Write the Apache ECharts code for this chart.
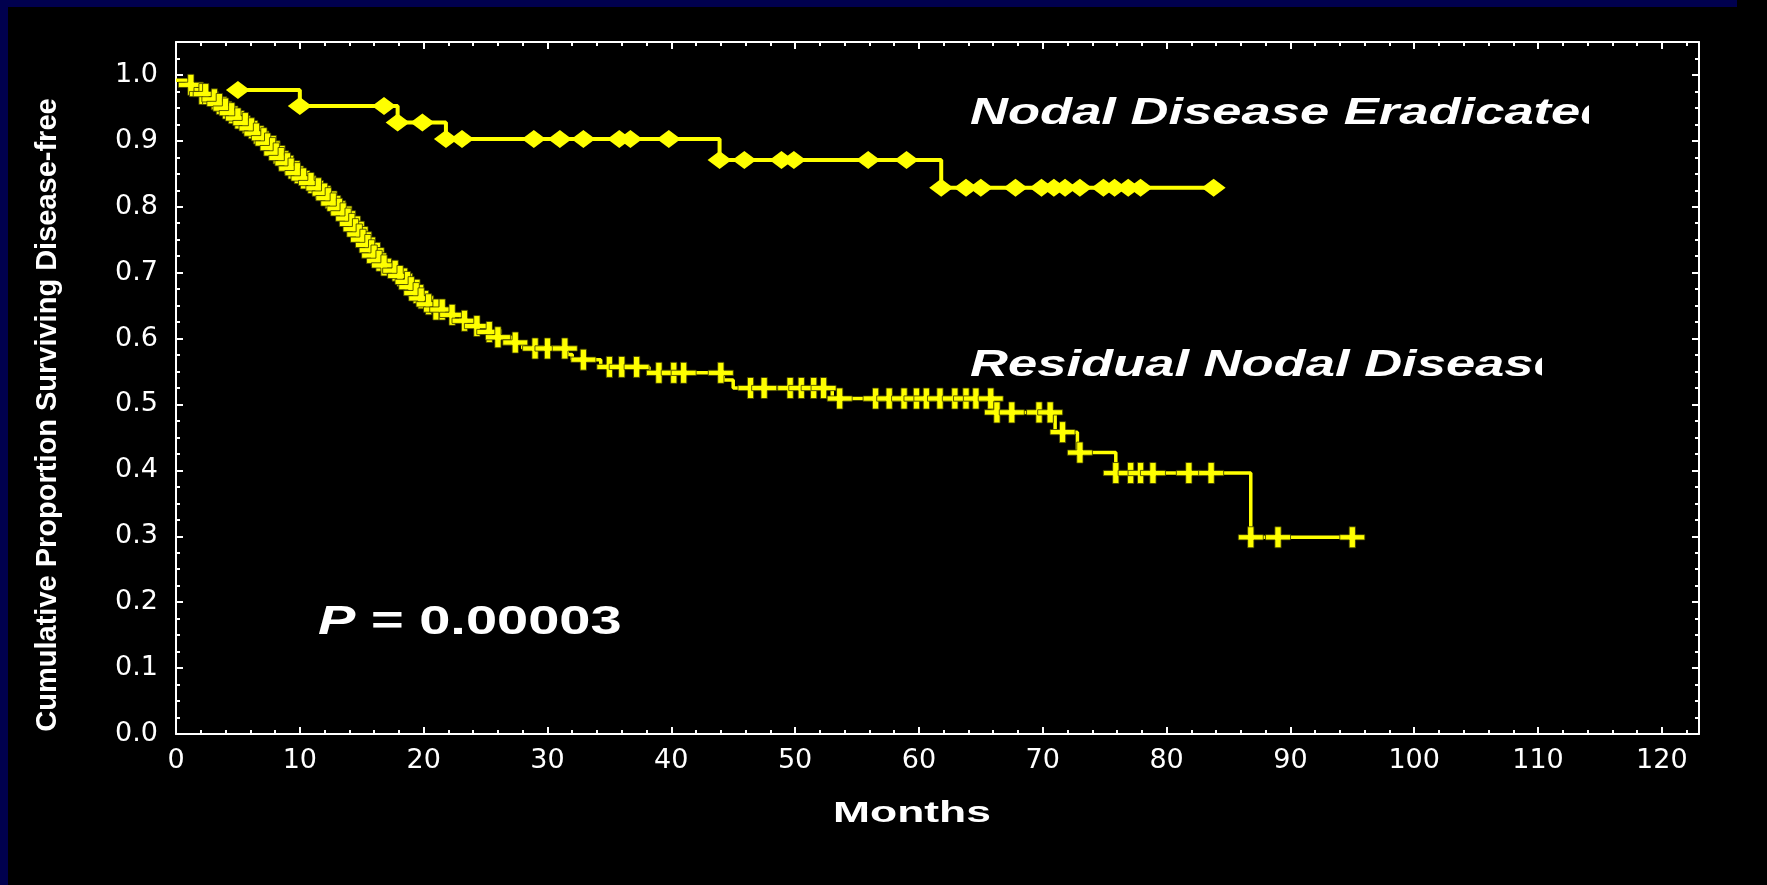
<!DOCTYPE html>
<html>
<head>
<meta charset="utf-8">
<script src="https://cdn.jsdelivr.net/npm/echarts@6/dist/echarts.min.js"></script>
<style>
html,body{margin:0;padding:0;background:#000;width:1767px;height:885px;overflow:hidden}
#topband{position:absolute;left:0;top:0;width:1737px;height:7px;background:#00004e}
#leftband{position:absolute;left:0;top:0;width:8px;height:885px;background:#00004e}
#chart{position:absolute;left:0;top:0;width:1767px;height:885px}
</style>
</head>
<body>
<div id="topband"></div>
<div id="leftband"></div>
<div id="chart"></div>
<script>
// ---------- axes ----------
const X_MIN = 0, X_MAX = 123, X_STEP = 10;
const Y_MIN = 0, Y_MAX = 1.05, Y_STEP = 0.1;
const xAxisTitle = 'Months';
const yAxisTitle = 'Cumulative Proportion Surviving Disease-free';
const labelNodal = 'Nodal Disease Eradicated';
const labelResidual = 'Residual Nodal Disease';
const pLabel = 'P';
const pValue = '= 0.00003';

// ---------- Residual Nodal Disease (Kaplan-Meier steps) ----------
const resStepT = [0, 0.9, 1.5, 2.1, 2.7, 3.2, 3.8, 4.3, 4.9, 5.4,
  6.0, 6.3, 6.8, 7.2, 7.6, 8.0, 8.3, 8.7, 9.1, 9.6,
  10.1, 10.8, 11.3, 11.8, 12.1, 12.5, 13.0, 13.3, 13.7, 14.0,
  14.3, 14.6, 15.0, 15.3, 15.6, 15.9, 16.2, 16.6, 17.5, 18.0,
  18.5, 18.9, 19.2, 19.6, 20.2, 20.8, 22.0, 23.0, 24.0, 25.1,
  25.5, 27.1, 28.0, 31.6, 32.0, 34.3, 38.2, 44.2, 45.0, 53.0,
  66.0, 71.0, 72.8, 75.9, 86.8, 95.0];
const resStepS = [0.992, 0.985, 0.978, 0.971, 0.963, 0.956, 0.949, 0.942, 0.934, 0.927,
  0.919, 0.911, 0.904, 0.896, 0.889, 0.881, 0.874, 0.866, 0.858, 0.851,
  0.843, 0.836, 0.828, 0.820, 0.813, 0.805, 0.797, 0.790, 0.782, 0.774,
  0.766, 0.758, 0.750, 0.742, 0.734, 0.726, 0.718, 0.711, 0.703, 0.695,
  0.686, 0.678, 0.669, 0.661, 0.652, 0.644, 0.636, 0.627, 0.619, 0.610,
  0.602, 0.594, 0.585, 0.576, 0.568, 0.557, 0.548, 0.537, 0.525, 0.509,
  0.488, 0.458, 0.427, 0.396, 0.2985, 0.2985];
// censored observations (+)
const resCensT = [1.2, 2.1, 2.4, 3.1, 3.5, 4.0, 4.5, 5.0, 5.6, 6.1,
  6.5, 7.1, 7.4, 7.8, 8.1, 8.5, 9.0, 9.3, 9.8, 10.3,
  10.9, 11.5, 12.0, 12.3, 12.7, 13.2, 13.5, 13.9, 14.2, 14.5,
  14.8, 15.1, 15.5, 15.8, 16.0, 16.4, 16.8, 17.7, 18.1, 18.7,
  19.0, 19.4, 19.8, 20.4, 21.0, 21.5, 22.3, 23.3, 24.3, 25.3,
  26.0, 27.4, 29.0, 30.0, 31.4, 32.9, 35.0, 36.0, 37.2, 39.0,
  40.2, 41.0, 44.0, 46.4, 47.5, 49.6, 50.5, 51.5, 52.3, 53.6,
  56.5, 57.6, 58.8, 59.8, 60.6, 61.7, 62.9, 63.8, 64.6, 65.8,
  66.3, 67.5, 69.7, 70.6, 71.6, 73.0, 75.9, 77.1, 77.9, 78.9,
  81.8, 83.6, 86.8, 89.0, 95.0];
const resCensS = [0.985, 0.971, 0.971, 0.963, 0.956, 0.949, 0.942, 0.934, 0.927, 0.919,
  0.911, 0.904, 0.896, 0.889, 0.881, 0.874, 0.866, 0.858, 0.851, 0.843,
  0.836, 0.828, 0.820, 0.813, 0.805, 0.797, 0.790, 0.782, 0.774, 0.766,
  0.758, 0.750, 0.742, 0.734, 0.726, 0.718, 0.711, 0.703, 0.695, 0.686,
  0.678, 0.669, 0.661, 0.652, 0.644, 0.644, 0.636, 0.627, 0.619, 0.610,
  0.602, 0.594, 0.585, 0.585, 0.585, 0.568, 0.557, 0.557, 0.557, 0.548,
  0.548, 0.548, 0.548, 0.525, 0.525, 0.525, 0.525, 0.525, 0.525, 0.509,
  0.509, 0.509, 0.509, 0.509, 0.509, 0.509, 0.509, 0.509, 0.509, 0.509,
  0.488, 0.488, 0.488, 0.488, 0.458, 0.427, 0.396, 0.396, 0.396, 0.396,
  0.396, 0.396, 0.2985, 0.2985, 0.2985];

// ---------- Nodal Disease Eradicated ----------
const nodStepT = [5.0, 10.0, 17.9, 21.8, 43.9, 61.8, 83.8];
const nodStepS = [0.977, 0.953, 0.928, 0.903, 0.871, 0.829, 0.829];
const nodCensT = [5.0, 10.0, 16.8, 17.9, 19.9,
  21.8, 23.1, 28.9, 31.0, 32.9, 35.8, 36.7, 39.8,
  43.9, 45.9, 48.9, 49.9, 55.9, 59.0,
  61.8, 63.8, 65.0, 67.8, 69.9, 70.9, 71.8, 73.0, 74.9, 75.8, 76.9, 77.9, 83.8];
const nodCensS = [0.977, 0.953, 0.953, 0.928, 0.928,
  0.903, 0.903, 0.903, 0.903, 0.903, 0.903, 0.903, 0.903,
  0.871, 0.871, 0.871, 0.871, 0.871, 0.871,
  0.829, 0.829, 0.829, 0.829, 0.829, 0.829, 0.829, 0.829, 0.829, 0.829, 0.829, 0.829, 0.829];

// ---------- build ----------
const pair = (a, b) => a.map((v, i) => [v, b[i]]);
const YELLOW = '#ffff00';
const WHITE = '#ffffff';
const PLUS = 'path://M9,0H15V7.5H24V12.5H15V20H9V12.5H0V7.5H9Z';

function xAx(pos, showLabel) {
  return {
    type: 'value', position: pos, min: X_MIN, max: X_MAX, interval: X_STEP,
    axisLine: { show: true, onZero: false, lineStyle: { color: WHITE, width: 2 } },
    axisTick: { show: true, inside: true, length: 7, lineStyle: { color: WHITE, width: 2 } },
    minorTick: { show: true, splitNumber: 5, length: 4, lineStyle: { color: WHITE, width: 2 } },
    splitLine: { show: false }, minorSplitLine: { show: false },
    axisLabel: {
      show: showLabel, color: WHITE, fontFamily: 'DejaVu Sans', fontSize: 27, margin: 13,
      showMaxLabel: false,
      formatter: v => (Math.abs(v / X_STEP - Math.round(v / X_STEP)) < 1e-6 ? String(Math.round(v)) : '')
    }
  };
}
function yAx(pos, showLabel) {
  return {
    type: 'value', position: pos, min: Y_MIN, max: Y_MAX, interval: Y_STEP,
    axisLine: { show: true, onZero: false, lineStyle: { color: WHITE, width: 2 } },
    axisTick: { show: true, inside: true, length: 7, lineStyle: { color: WHITE, width: 2 } },
    minorTick: { show: true, splitNumber: 4, length: 4, lineStyle: { color: WHITE, width: 2 } },
    splitLine: { show: false }, minorSplitLine: { show: false },
    axisLabel: {
      show: showLabel, color: WHITE, fontFamily: 'DejaVu Sans', fontSize: 27, margin: 18,
      showMaxLabel: false,
      formatter: v => (Math.abs(v / Y_STEP - Math.round(v / Y_STEP)) < 1e-6 ? v.toFixed(1) : '')
    }
  };
}

const chart = echarts.init(document.getElementById('chart'), null, { renderer: 'canvas' });
chart.setOption({
  backgroundColor: 'transparent',
  animation: false,
  grid: { left: 176, right: 68, top: 42, bottom: 151, containLabel: false },
  xAxis: [xAx('bottom', true), xAx('top', false)],
  yAxis: [yAx('left', true), yAx('right', false)],
  series: [
    {
      name: labelResidual, type: 'line', step: 'end', xAxisIndex: 0, yAxisIndex: 0,
      data: pair(resStepT, resStepS), symbol: 'none', z: 2,
      lineStyle: { color: YELLOW, width: 3.5 }
    },
    {
      name: labelResidual + ' censored', type: 'scatter', xAxisIndex: 0, yAxisIndex: 0,
      data: pair(resCensT, resCensS), symbol: PLUS, symbolSize: [25, 21], z: 3,
      itemStyle: { color: YELLOW, borderColor: '#3a3a00', borderWidth: 0.8, opacity: 1 }
    },
    {
      name: labelNodal, type: 'line', step: 'end', xAxisIndex: 0, yAxisIndex: 0,
      data: pair(nodStepT, nodStepS), symbol: 'none', z: 4,
      lineStyle: { color: YELLOW, width: 4 }
    },
    {
      name: labelNodal + ' censored', type: 'scatter', xAxisIndex: 0, yAxisIndex: 0,
      data: pair(nodCensT, nodCensS), symbol: 'diamond', symbolSize: [24, 18], z: 5,
      itemStyle: { color: YELLOW, opacity: 1 }
    }
  ],
  graphic: [
    {
      type: 'text', x: 48, y: 415, rotation: Math.PI / 2, z: 90,
      style: { text: yAxisTitle, x: 0, y: 0, fill: WHITE, fontFamily: 'Liberation Sans', fontSize: 29,
        fontWeight: 'bold', textAlign: 'center', verticalAlign: 'middle', textVerticalAlign: 'middle' }
    },
    {
      type: 'text', x: 912, y: 814, scaleX: 1.48, z: 90,
      style: { text: xAxisTitle, x: 0, y: 0, fill: WHITE, fontFamily: 'Liberation Sans', fontSize: 30,
        fontWeight: 'bold', textAlign: 'center', verticalAlign: 'middle', textVerticalAlign: 'middle' }
    },
    {
      type: 'text', x: 970, y: 114, scaleX: 1.42, z: 90,
      style: { text: labelNodal, x: 0, y: 0, fill: WHITE, fontFamily: 'Liberation Sans', fontSize: 37,
        fontWeight: 'bold', fontStyle: 'italic', textAlign: 'left', verticalAlign: 'middle', textVerticalAlign: 'middle' }
    },
    {
      type: 'text', x: 970, y: 366, scaleX: 1.42, z: 90,
      style: { text: labelResidual, x: 0, y: 0, fill: WHITE, fontFamily: 'Liberation Sans', fontSize: 37,
        fontWeight: 'bold', fontStyle: 'italic', textAlign: 'left', verticalAlign: 'middle', textVerticalAlign: 'middle' }
    },
    { type: 'rect', z: 100, shape: { x: 1589, y: 86, width: 90, height: 56 }, style: { fill: '#000' } },
    { type: 'rect', z: 100, shape: { x: 1542, y: 338, width: 90, height: 56 }, style: { fill: '#000' } },
    {
      type: 'text', x: 318, y: 623, scaleX: 1.4, z: 90,
      style: {
        text: '{p|' + pLabel + '} ' + pValue, x: 0, y: 0, fill: WHITE,
        fontFamily: 'Liberation Sans', fontSize: 40, fontWeight: 'bold',
        textAlign: 'left', verticalAlign: 'middle', textVerticalAlign: 'middle',
        rich: { p: { fontFamily: 'Liberation Sans', fontSize: 40, fontWeight: 'bold', fontStyle: 'italic', fill: WHITE } }
      }
    }
  ]
});
</script>
</body>
</html>
